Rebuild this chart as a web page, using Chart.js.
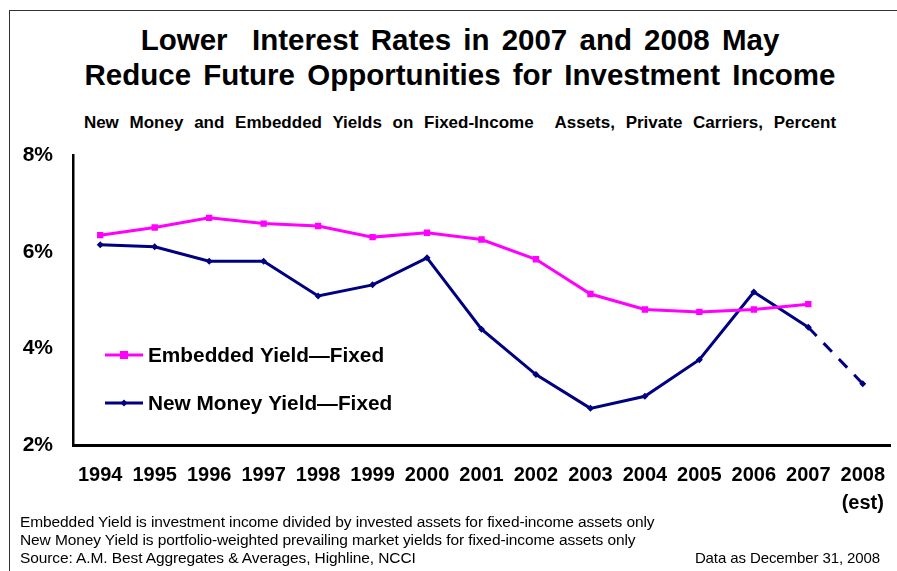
<!DOCTYPE html>
<html>
<head>
<meta charset="utf-8">
<script src="https://cdn.jsdelivr.net/npm/chart.js@4.4.1/dist/chart.umd.min.js"></script>
<style>
  html, body { margin: 0; padding: 0; background: #fff; }
  body { width: 897px; height: 571px; position: relative; overflow: hidden; font-family: "Liberation Sans", Arial, sans-serif; color: #000; }
  #frame { position: absolute; left: 9px; top: 10px; right: -5px; bottom: -5px; border-top: 1.5px solid #333; border-left: 1.5px solid #333; }
  .title { position: absolute; left: 0; width: 920px; text-align: center; font-weight: bold; font-size: 29.5px; word-spacing: 4px; white-space: pre; }
  #sub { position: absolute; left: 0; width: 920px; top: 113px; text-align: center; font-weight: bold; font-size: 17px; word-spacing: 6px; white-space: pre; }
  #wrap { position: absolute; left: 0; top: 131px; width: 897px; height: 389px; }
  .note { position: absolute; left: 20px; font-size: 15.5px; letter-spacing: -0.1px; white-space: pre; }
  #asof { position: absolute; right: 17px; top: 549px; font-size: 15px; letter-spacing: -0.1px; }
</style>
</head>
<body>
<div id="frame"></div>
<div class="title" style="top:23px">Lower  Interest Rates in 2007 and 2008 May</div>
<div class="title" style="top:58px">Reduce Future Opportunities for Investment Income</div>
<div id="sub">New Money and Embedded Yields on Fixed-Income  Assets, Private Carriers, Percent</div>
<div id="wrap"><canvas id="yieldChart"></canvas></div>
<div class="note" style="top:513px">Embedded Yield is investment income divided by invested assets for fixed-income assets only</div>
<div class="note" style="top:531px">New Money Yield is portfolio-weighted prevailing market yields for fixed-income assets only</div>
<div class="note" style="top:549px">Source: A.M. Best Aggregates &amp; Averages, Highline, NCCI</div>
<div id="asof">Data as December 31, 2008</div>

<script>
const years = ["1994","1995","1996","1997","1998","1999","2000","2001","2002","2003","2004","2005","2006","2007",["2008","(est)"]];
const embeddedYield = [6.35,6.51,6.71,6.59,6.54,6.31,6.40,6.26,5.85,5.13,4.81,4.76,4.81,4.92,null];
const newMoneyYield = [6.15,6.11,5.81,5.81,5.09,5.32,5.88,4.40,3.46,2.76,3.01,3.77,5.17,4.44,3.27];
const yTicks = [2,4,6,8];

const MAGENTA = "#ff00ff";
const NAVY = "#000080";

// legend sits inside the plot, lower left
const insideLegend = {
  id: "insideLegend",
  afterDatasetsDraw(chart) {
    const ctx = chart.ctx;
    const rows = [224, 272];
    ctx.save();
    chart.data.datasets.forEach((ds, i) => {
      const y = rows[i];
      ctx.strokeStyle = ds.borderColor;
      ctx.lineWidth = 3;
      ctx.beginPath();
      ctx.moveTo(105, y);
      ctx.lineTo(143, y);
      ctx.stroke();
      ctx.fillStyle = ds.borderColor;
      if (ds.pointStyle === "rect") {
        ctx.fillRect(120, y - 4, 8, 8);
      } else {
        ctx.beginPath();
        ctx.moveTo(124, y - 3.5); ctx.lineTo(127.5, y); ctx.lineTo(124, y + 3.5); ctx.lineTo(120.5, y);
        ctx.fill();
      }
      ctx.fillStyle = "#000";
      ctx.font = "bold 20.8px 'Liberation Sans', Arial, sans-serif";
      ctx.textBaseline = "middle";
      ctx.fillText(ds.label, 148, y + 1);
    });
    ctx.restore();
  }
};

new Chart(document.getElementById("yieldChart"), {
  type: "line",
  data: {
    labels: years,
    datasets: [{
      label: "Embedded Yield\u2014Fixed",
      data: embeddedYield,
      borderColor: MAGENTA,
      backgroundColor: MAGENTA,
      borderWidth: 3,
      pointStyle: "rect",
      pointRadius: 4.5,
      pointBorderWidth: 0,
      tension: 0
    }, {
      label: "New Money Yield\u2014Fixed",
      data: newMoneyYield,
      borderColor: NAVY,
      backgroundColor: NAVY,
      borderWidth: 3,
      pointStyle: "rectRot",
      pointRadius: 3.5,
      pointBorderWidth: 0,
      tension: 0,
      segment: {
        borderDash: c => c.p1DataIndex === 14 ? [12, 10] : undefined
      }
    }]
  },
  options: {
    responsive: true,
    maintainAspectRatio: false,
    animation: false,
    layout: { padding: { top: 3, right: 7, left: 0, bottom: 0 } },
    plugins: { legend: { display: false }, tooltip: { enabled: false } },
    scales: {
      x: {
        offset: true,
        grid: { display: false },
        border: { color: "#000", width: 3 },
        afterFit: s => { s.height = 75; },
        ticks: {
          color: "#000",
          padding: 8,
          maxRotation: 0,
          autoSkip: false,
          font: { family: "'Liberation Sans', Arial, sans-serif", size: 20, weight: "bold", lineHeight: 1.4 }
        }
      },
      y: {
        min: 2,
        max: 8,
        afterBuildTicks: s => { s.ticks = yTicks.map(v => ({ value: v })); },
        afterFit: s => { s.width = 73; },
        grid: { display: false },
        border: { color: "#000", width: 2.5 },
        ticks: {
          color: "#000",
          padding: 12,
          callback: v => v + "%",
          font: { family: "'Liberation Sans', Arial, sans-serif", size: 21, weight: "bold" }
        }
      }
    }
  },
  plugins: [insideLegend]
});
</script>
</body>
</html>
